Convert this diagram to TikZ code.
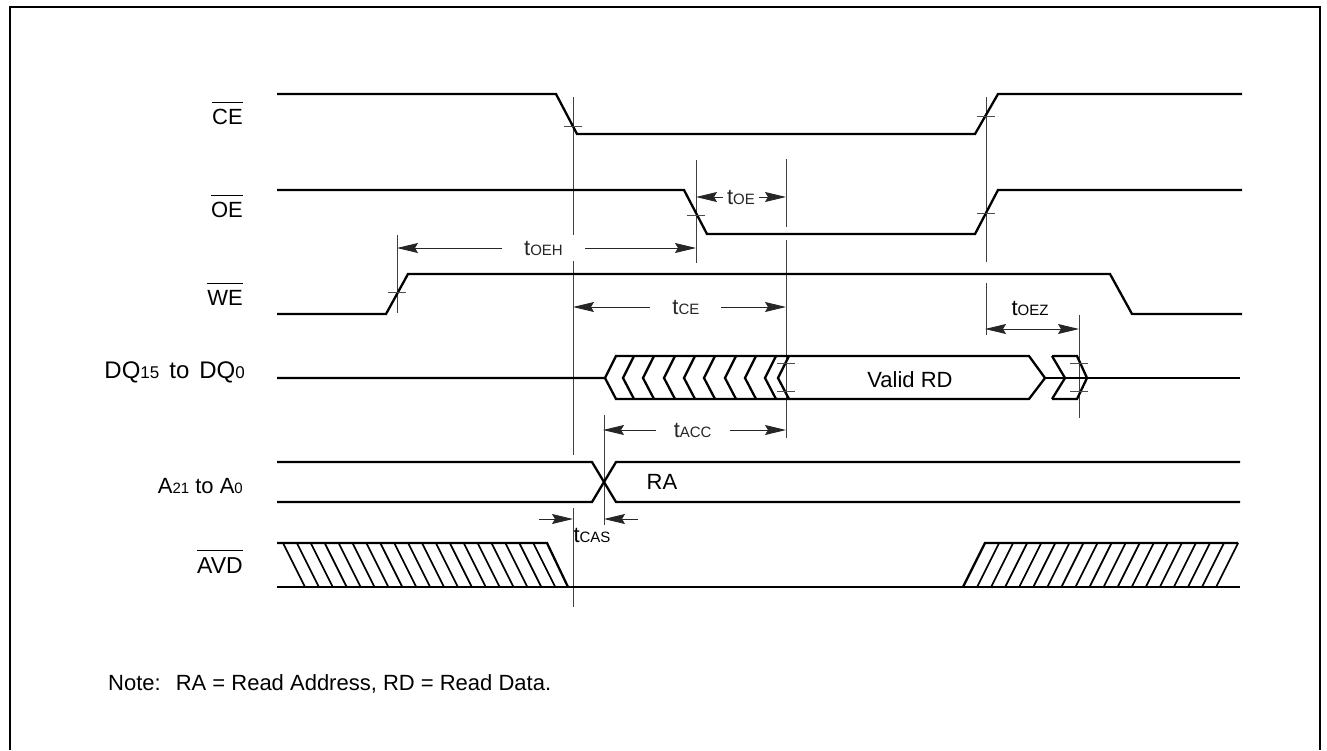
\documentclass[tikz,border=0pt]{standalone}
\usepackage{fontspec}
\setmainfont{Liberation Sans}
\usetikzlibrary{arrows.meta}
\newcommand{\sml}[1]{{\fontsize{15}{15}\selectfont #1}}
\newcommand{\ovl}[1]{\leavevmode\vbox{\hrule height 1.1pt\kern 6pt\hbox{#1}}}
\begin{document}
\begin{tikzpicture}[x=1pt, y=-1pt,
  wave/.style={line width=2.3pt, line join=miter},
  guide/.style={line width=1pt, black!75},
  tick/.style={line width=0.8pt, black!70},
  hatch/.style={line width=1.7pt},
  dim/.style={line width=0.9pt, black!85,
    {Stealth[length=21pt, width=10pt, inset=3pt]}-{Stealth[length=21pt, width=10pt, inset=3pt]}},
  onedim/.style={line width=0.9pt, black!85, -{Stealth[length=21pt, width=10pt, inset=3pt]}},
  lab/.style={font=\fontsize{22}{24}\selectfont, anchor=base east, inner sep=0pt},
  tlab/.style={font=\fontsize{22}{24}\selectfont, fill=white, inner sep=6pt}
]
\useasboundingbox (0,0) rectangle (1327,750);
% frame
\draw[line width=2pt] (10,750) -- (10,7) -- (1320,7) -- (1320,750);

% signal names
\node[lab] (ce)  at (243,124) {\ovl{CE}};
\node[lab] (oe)  at (243,217) {\ovl{OE}};
\node[lab] (we)  at (243,305) {\ovl{WE}};
\node[lab, font=\fontsize{24}{26}\selectfont] (dq) at (245,378)
  {DQ{\fontsize{17}{17}\selectfont 15}\hspace{10pt}to\hspace{10pt}DQ{\fontsize{17}{17}\selectfont 0}};
\node[lab] (adr) at (243,493) {A\sml{21} to A\sml{0}};
\node[lab, font=\fontsize{23}{25}\selectfont] (avd) at (243,573) {\ovl{AVD}};

% reference lines
\draw[guide] (573,97) -- (573,455) (573,508) -- (573,607);
\draw[guide] (696,160) -- (696,263);
\draw[guide] (786,159) -- (786,227) (786,240) -- (786,438);
\draw[guide] (986,97) -- (986,262) (986,283) -- (986,335);
\draw[guide] (397,235) -- (397,313);
\draw[guide] (1079,315) -- (1079,418);
\draw[guide] (604,415) -- (604,525);

% CE, OE, WE
\draw[wave] (277,94) -- (556,94) -- (577,134) -- (975,134) -- (998,94) -- (1242,94);
\draw[wave] (277,190) -- (684,190) -- (707,234) -- (975,234) -- (998,190) -- (1242,190);
\draw[wave] (277,314) -- (386,314) -- (408,274) -- (1110,274) -- (1132,314) -- (1242,314);

% DQ
\draw[wave] (277,378) -- (605,378) -- (616,356) -- (1029,356) -- (1045,378) -- (1029,399) -- (616,399) -- (605,378);
\foreach \t in {623,643,664,684,704,725,745,765,778}
  \draw[wave] (\t+11,356) -- (\t,378) -- (\t+11,399);
\draw[wave] (1052,356) -- (1065,378) -- (1052,399);
\draw[wave] (1052,356) -- (1077,356) -- (1087,378) -- (1077,399) -- (1052,399);
\draw[wave] (1045,378) -- (1240,378);
\node[font=\fontsize{22}{24}\selectfont] (rd) at (910,380) {Valid RD};

% address
\draw[wave] (277,462) -- (592,462) -- (616,502) -- (1240,502);
\draw[wave] (277,502) -- (592,502) -- (616,462) -- (1240,462);
\node[font=\fontsize{22}{24}\selectfont] (ra) at (662,482) {RA};

% AVD
\draw[wave] (277,543) -- (547,543) -- (568,587);
\draw[wave] (277,587) -- (1240,587);
\foreach \i in {0,...,18}
  \draw[hatch] (283+\i*13.9,543) -- (305+\i*13.9,587);
\draw[wave] (963,587) -- (985,543) -- (1238,543);
\foreach \i in {1,...,18}
  \draw[hatch] (963+\i*14.06,587) -- (985+\i*14.06,543);

% crossing marks
\foreach \x/\y in {573/126, 696/215, 986/116, 986/213, 397/292, 786/363, 786/391, 1079/363, 1079/391}
  \draw[tick] (\x-9,\y) -- (\x+9,\y);

% timing
\draw[dim] (696,197) -- (786,197) node[tlab, midway, inner sep=4pt] (toe) {t\sml{OE}};
\draw[dim] (397,248) -- (696,248) node[tlab, pos=0.49, inner xsep=22pt] (toeh) {t\sml{OEH}};
\draw[dim] (573,307) -- (786,307) node[tlab, pos=0.53, inner xsep=22pt] (tce) {t\sml{CE}};
\draw[dim] (985,329) -- (1079,329);
\node[font=\fontsize{22}{24}\selectfont] (toez) at (1030,308) {t\sml{OEZ}};
\draw[dim] (603,430) -- (786,430) node[tlab, pos=0.49, inner xsep=18pt] (tacc) {t\sml{ACC}};
\draw[onedim] (539,519) -- (573,519);
\draw[onedim] (638,519) -- (604,519);
\node[font=\fontsize{22}{24}\selectfont] (tcas) at (592,535) {t\sml{CAS}};

% note
\node[font=\fontsize{22}{24}\selectfont, anchor=base west, inner sep=0pt] (note) at (108,690)
  {Note:\hspace{15pt}RA = Read Address, RD = Read Data.};
\end{tikzpicture}
\end{document}
